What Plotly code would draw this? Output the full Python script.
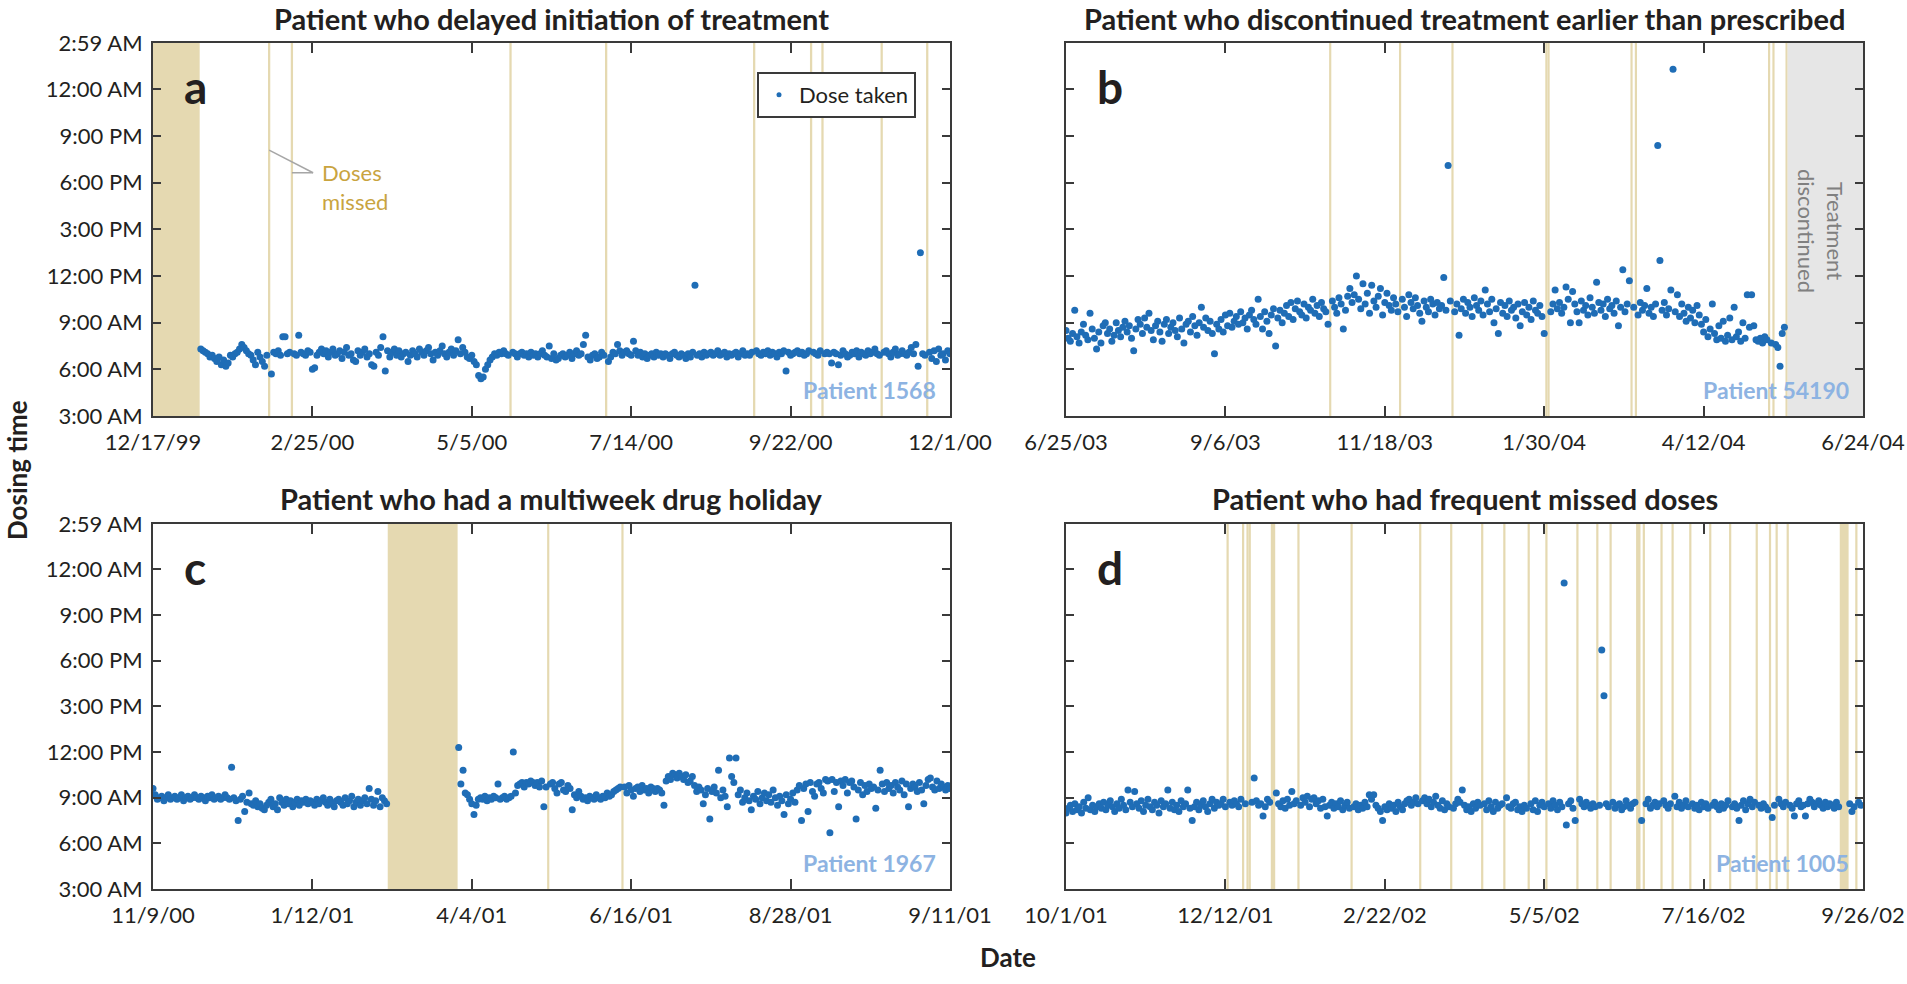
import sys
import plotly.graph_objects as go

# ------------------------------------------------------------------ data
y_tick_hours = [3, 6, 9, 12, 15, 18, 21, 24, 26.9833]
y_tick_labels = ["3:00 AM", "6:00 AM", "9:00 AM", "12:00 PM", "3:00 PM",
                 "6:00 PM", "9:00 PM", "12:00 AM", "2:59 AM"]

# ---- panel a : delayed initiation
a_title = "Patient who delayed initiation of treatment"
a_patient = "Patient 1568"
a_span = 350
a_tick_days = [0, 70, 140, 210, 280, 350]
a_tick_labels = ["12/17/99", "2/25/00", "5/5/00", "7/14/00", "9/22/00", "12/1/00"]
a_first_day, a_last_day = 21, 350
a_missed_runs = [(0, 20)]
a_missed_days = [51, 61, 157, 199, 264, 289, 294, 320, 340]
a_dose_hours = [
    # d21-50
    7.3, 7.2, 7.1, 7.0, 6.8, 6.9, 6.7, 6.5, 6.8, 6.3,
    6.6, 6.2, 6.4, 6.9, 6.8, 7.0, 7.1, 7.3, 7.6, 7.4,
    7.2, 7.0, 6.9, 6.6, 6.3, 7.1, 6.8, 6.5, 6.2, 6.9,
    # d52-60
    5.7, 7.1, 7.0, 7.2, 6.9, 8.1, 8.1, 7.0, 7.1,
    # d62-156
    7.0, 6.9, 8.2, 7.1, 7.0, 6.9, 7.2, 7.1, 6.0, 6.1,
    6.9, 7.1, 7.3, 7.0, 7.2, 6.8, 7.1, 7.3, 6.9, 7.0,
    7.2, 6.7, 7.1, 7.4, 6.9, 7.0, 6.6, 6.5, 7.2, 6.9,
    7.1, 7.3, 6.8, 7.0, 6.3, 6.2, 7.1, 6.9, 7.4, 8.1,
    5.9, 7.2, 6.8, 7.1, 7.3, 6.9, 7.2, 6.8, 7.0, 7.1,
    6.5, 6.9, 7.2, 7.0, 6.8, 7.3, 7.1, 6.9, 7.2, 7.4,
    7.0, 6.6, 7.1, 6.9, 7.2, 7.5, 7.0, 6.8, 7.1, 7.3,
    6.9, 7.2, 7.9, 7.0, 7.4, 7.1, 6.8, 6.7, 6.9, 6.5,
    6.3, 5.6, 5.4, 5.5, 6.0, 6.3, 6.6, 6.8, 7.0, 6.9,
    7.1, 7.0, 7.2, 7.0, 6.9,
    # d158-198
    7.1, 7.0, 6.8, 7.0, 7.1, 6.9, 7.0, 6.8, 7.1, 6.9,
    7.0, 6.8, 7.0, 7.2, 6.9, 6.8, 7.5, 6.7, 7.0, 6.6,
    6.7, 6.9, 7.0, 6.8, 6.9, 7.1, 6.7, 7.0, 7.2, 6.9,
    7.0, 7.6, 8.2, 6.8, 6.6, 6.9, 7.0, 6.7, 6.8, 7.1,
    6.9,
    # d200-263
    6.5, 6.8, 7.1, 7.0, 7.6, 7.2, 6.9, 7.1, 7.2, 7.0,
    6.9, 7.8, 7.2, 6.9, 7.1, 6.8, 7.0, 6.7, 6.9, 7.0,
    6.8, 7.1, 6.9, 7.0, 6.8, 7.0, 6.9, 6.7, 7.0, 7.1,
    6.9, 6.8, 7.0, 6.9, 6.7, 7.0, 6.8, 7.1, 11.4, 6.9,
    7.0, 6.8, 7.1, 6.9, 7.0, 7.1, 6.9, 7.0, 7.2, 6.9,
    7.0, 7.1, 6.8, 7.0, 6.9, 7.0, 7.1, 6.8, 7.0, 7.2,
    6.9, 7.0, 6.9, 7.1,
    # d265-288
    7.2, 7.0, 6.9, 7.1, 7.0, 7.2, 6.9, 7.1, 7.0, 6.8,
    7.1, 7.0, 7.2, 5.9, 7.1, 6.9, 7.0, 7.1, 7.2, 7.0,
    7.1, 6.9, 7.0, 7.2,
    # d290-293
    7.1, 7.0, 6.9, 7.2,
    # d295-319
    7.0, 7.1, 7.0, 6.4, 7.1, 7.0, 6.3, 6.9, 7.2, 7.0,
    6.8, 6.9, 7.1, 7.0, 7.2, 6.8, 7.1, 7.0, 6.9, 7.2,
    7.0, 7.1, 7.3, 7.0, 6.9,
    # d321-339
    7.1, 7.2, 7.0, 6.8, 7.1, 7.3, 6.9, 7.0, 7.2, 7.0,
    6.9, 7.1, 7.4, 7.0, 7.6, 6.2, 13.5, 7.0, 6.9,
    # d341-350
    7.1, 6.7, 7.2, 6.5, 7.3, 6.9, 7.0, 6.6, 7.2, 7.0,
]

# ---- panel b : discontinued early
b_title = "Patient who discontinued treatment earlier than prescribed"
b_patient = "Patient 54190"
b_span = 365
b_tick_days = [0, 73, 146, 219, 292, 365]
b_tick_labels = ["6/25/03", "9/6/03", "11/18/03", "1/30/04", "4/12/04", "6/24/04"]
b_first_day, b_last_day = 0, 329
b_missed_runs = []
b_missed_days = [121, 153, 177, 220, 221, 259, 261, 322, 324, 330]
b_discontinued_from = 330.5
b_dose_hours = [
    8.5, 8.0, 7.8, 8.3, 9.8, 8.1, 7.7, 8.4, 8.9, 8.2,
    7.9, 9.6, 8.6, 8.0, 7.3, 8.4, 7.7, 8.8, 9.0, 8.3,
    8.6, 7.8, 8.2, 9.0, 8.5, 8.1, 8.7, 9.1, 8.4, 8.8,
    8.0, 7.2, 8.6, 9.2, 8.9, 8.3, 9.3, 8.7, 9.6, 8.5,
    7.9, 8.8, 9.1, 8.4, 7.8, 8.9, 9.2, 8.3, 8.7, 9.0,
    8.5, 8.1, 9.3, 8.6, 7.7, 8.9, 9.1, 8.4, 9.4, 8.8,
    8.2, 9.0, 10.0, 8.7, 9.3, 8.5, 9.1, 8.3, 7.0, 8.9,
    8.6, 9.2, 8.4, 9.5, 8.8, 9.6, 8.7, 9.1, 9.4, 8.9,
    9.7, 9.0, 9.3, 8.6, 9.5, 9.8, 9.2, 8.9, 10.5, 9.4,
    8.6, 9.7, 9.1, 8.3, 9.5, 9.9, 7.5, 9.3, 9.8, 9.0,
    9.6, 10.1, 9.4, 10.3, 9.2, 9.9, 10.4, 9.7, 9.5, 10.2,
    9.3, 10.0, 9.8, 10.5, 9.6, 10.1, 9.4, 10.3, 9.9, 9.7,
    8.9, 10.4, 10.0, 9.6, 10.6, 10.2, 8.6, 9.8, 10.7, 11.2,
    10.3, 10.8, 12.0, 10.5, 9.9, 11.5, 10.2, 10.9, 9.6, 11.4,
    10.4, 10.0, 10.7, 11.2, 9.5, 10.3, 10.9, 10.1, 9.8, 10.6,
    10.2, 9.7, 10.5, 10.0, 9.4, 10.8, 10.3, 9.9, 10.6, 10.1,
    9.6, 9.1, 10.4, 10.0, 9.7, 10.5, 10.2, 9.5, 10.3, 9.9,
    10.1, 11.9, 9.8, 19.1, 10.4, 9.7, 10.2, 8.2, 9.9, 10.5,
    9.6, 10.3, 10.0, 9.4, 10.6, 10.1, 9.8, 10.4, 9.5, 11.1,
    10.2, 9.7, 10.5, 9.0, 9.9, 8.3, 10.3, 9.6, 10.1, 9.4,
    10.4, 9.8, 10.0, 9.3, 10.2, 8.8, 9.7, 10.3, 9.5, 10.0,
    9.2, 10.4, 9.8, 9.6, 10.1, 9.4, 8.3, 9.7, 10.2, 11.1,
    9.9, 10.3, 9.6, 10.0, 11.3, 10.5, 9.0, 11.0, 10.2, 9.7,
    9.0, 10.4, 9.8, 10.1, 9.5, 10.6, 10.0, 9.6, 11.6, 10.3,
    9.8, 10.2, 9.4, 10.5, 9.9, 10.1, 9.6, 10.4, 8.8, 10.0,
    12.4, 9.7, 10.2, 11.7, 10.0, 9.5, 10.3, 9.8, 10.1, 11.2,
    9.6, 10.0, 9.4, 10.2, 20.4, 13.0, 9.8, 10.3, 9.5, 9.9,
    11.1, 1.3, 9.7, 10.8, 9.4, 10.2, 9.6, 9.1, 10.0, 9.3,
    9.8, 9.0, 10.1, 9.5, 8.9, 8.4, 9.2, 8.1, 8.6, 10.2,
    8.3, 7.9, 8.8, 8.0, 9.1, 7.8, 8.2, 9.3, 7.9, 10.0,
    8.1, 8.4, 7.8, 9.0, 8.0, 10.8, 8.7, 10.8, 8.8, 7.9,
    7.8, 8.0, 7.7, 8.1, 7.9, 7.7, 7.6, 7.4, 6.2, 8.3, 8.7,
]

# ---- panel c : drug holiday
c_title = "Patient who had a multiweek drug holiday"
c_patient = "Patient 1967"
c_span = 365
c_tick_days = [0, 73, 146, 219, 292, 365]
c_tick_labels = ["11/9/00", "1/12/01", "4/4/01", "6/16/01", "8/28/01", "9/11/01"]
c_first_day, c_last_day = 0, 365
c_missed_runs = [(108, 139)]
c_missed_days = [181, 215]
c_dose_hours = [
    # d0-107
    9.6, 9.2, 8.9, 9.0, 9.1, 8.8, 9.0, 9.2, 8.9, 9.0,
    9.1, 8.9, 9.0, 9.2, 8.8, 9.0, 9.1, 8.9, 9.0, 9.2,
    9.0, 8.9, 9.1, 9.0, 8.8, 9.1, 9.0, 9.2, 8.9, 9.0,
    9.1, 8.9, 9.0, 9.2, 9.0, 8.9, 11.0, 9.0, 8.8, 7.5,
    8.9, 9.1, 8.1, 8.7, 9.3, 8.6, 8.5, 8.8, 8.4, 8.6,
    8.3, 8.2, 8.5, 8.7, 8.9, 8.4, 8.6, 8.2, 9.0, 8.7,
    8.5, 8.9, 8.6, 8.8, 8.4, 8.7, 8.9, 8.5, 8.8, 8.7,
    8.9, 8.6, 8.8, 8.7, 8.5, 8.9, 8.6, 8.8, 9.0, 8.7,
    8.5, 8.9, 8.6, 8.4, 8.8, 8.9, 8.7, 8.5, 9.0, 8.6,
    8.8, 9.1, 8.4, 8.7, 8.9, 8.5, 8.8, 9.0, 8.6, 9.6,
    8.9, 8.5, 8.8, 9.4, 8.4, 9.0, 8.8, 8.6,
    # d140-180
    12.3, 9.9, 10.8, 9.3, 9.2, 8.9, 8.6, 7.9, 8.5, 8.9,
    9.0, 8.9, 9.1, 8.8, 9.0, 8.9, 9.1, 9.0, 9.9, 8.9,
    9.0, 9.1, 8.9, 9.0, 9.1, 12.0, 9.3, 9.8, 9.9, 10.0,
    9.7, 10.0, 9.9, 10.1, 10.0, 9.8, 10.0, 9.7, 10.1, 8.4,
    9.7,
    # d182-214
    9.9, 10.0, 9.6, 9.3, 9.9, 10.0, 9.5, 9.4, 9.8, 9.6,
    8.2, 9.2, 9.0, 9.4, 9.1, 8.9, 9.0, 8.8, 9.1, 9.0,
    8.9, 9.2, 9.0, 8.9, 9.1, 9.0, 9.3, 9.1, 9.2, 9.4,
    9.5, 9.6, 9.7,
    # d216-365
    9.7, 9.3, 9.8, 9.5, 9.1, 9.6, 9.7, 9.4, 9.8, 9.5,
    9.6, 9.3, 9.7, 9.6, 9.4, 9.6, 9.5, 9.3, 8.5, 10.1,
    10.4, 10.2, 10.6, 10.5, 10.3, 10.6, 10.4, 10.2, 10.5, 10.0,
    10.1, 10.4, 9.8, 9.4, 9.7, 9.5, 8.6, 9.2, 9.6, 7.6,
    9.4, 9.7, 9.3, 10.8, 9.0, 9.5, 9.1, 8.4, 11.6, 10.4,
    10.0, 11.6, 9.2, 9.5, 8.7, 9.0, 9.3, 8.8, 8.2, 9.1,
    8.9, 9.4, 8.6, 9.0, 9.3, 8.8, 9.2, 8.7, 9.5, 9.0,
    8.5, 9.1, 8.8, 7.9, 9.2, 8.6, 8.9, 9.3, 8.7, 9.5,
    9.8, 7.5, 9.6, 9.9, 8.1, 10.0, 9.4, 9.1, 9.9, 10.0,
    9.6, 9.3, 10.2, 10.1, 6.7, 10.2, 9.4, 10.0, 8.4, 10.1,
    9.8, 10.2, 9.3, 10.0, 10.1, 9.7, 7.6, 9.5, 10.0, 9.2,
    9.8, 9.4, 9.9, 9.6, 9.7, 8.3, 9.5, 10.8, 9.9, 9.4,
    10.0, 9.6, 9.8, 9.3, 10.0, 9.7, 9.5, 10.1, 9.2, 9.9,
    8.4, 9.6, 9.9, 9.7, 9.4, 10.0, 9.5, 8.6, 9.8, 10.2,
    10.3, 9.7, 9.5, 10.1, 9.6, 9.9, 9.7, 9.5, 9.8, 9.6,
]

# ---- panel d : frequent missed doses
d_title = "Patient who had frequent missed doses"
d_patient = "Patient 1005"
d_span = 360
d_tick_days = [0, 72, 144, 216, 288, 360]
d_tick_labels = ["10/1/01", "12/12/01", "2/22/02", "5/5/02", "7/16/02", "9/26/02"]
d_first_day, d_last_day = 0, 359
d_missed_runs = [(258, 259), (350, 353)]
d_missed_days = [73, 80, 82, 83, 93, 94, 105, 129, 160, 174, 188, 198, 209, 217,
                 231, 240, 246, 261, 269, 274, 282, 291, 300, 312, 318, 321, 326, 357]
d_dose_hours = [
    # d0-72
    8.0, 8.3, 8.5, 8.1, 8.6, 8.2, 8.4, 8.0, 8.7, 8.3,
    9.0, 8.2, 8.5, 8.1, 8.4, 8.6, 8.3, 8.7, 8.2, 8.5,
    8.8, 8.4, 8.1, 8.6, 8.3, 8.9, 8.5, 8.2, 9.5, 8.7,
    8.4, 9.4, 8.6, 8.3, 8.8, 8.1, 8.5, 8.9, 8.4, 8.2,
    8.7, 8.5, 8.0, 8.8, 8.4, 8.6, 9.5, 8.3, 8.7, 8.2,
    8.5, 8.1, 8.8, 8.4, 8.6, 9.5, 8.3, 7.5, 8.4, 8.7,
    8.2, 8.5, 8.8, 8.4, 8.1, 8.6, 8.9, 8.3, 8.7, 8.5,
    8.6, 8.9, 8.4,
    # d74-79
    8.7, 8.5, 8.8, 8.6, 8.4, 8.9,
    # d81
    8.6,
    # d84-92
    8.7, 10.3, 8.8, 8.5, 8.6, 7.8, 8.4, 8.9, 8.7,
    # d95-104
    9.3, 8.6, 8.4, 8.8, 8.3, 8.9, 8.5, 9.4, 8.6, 8.8,
    # d106-128
    8.5, 9.0, 8.7, 9.1, 8.4, 8.9, 9.0, 8.6, 8.8, 8.3,
    8.9, 8.4, 7.8, 8.5, 8.7, 8.3, 8.6, 8.4, 8.8, 8.2,
    8.5, 8.7, 8.3,
    # d130-159
    8.4, 8.6, 8.2, 8.5, 8.3, 8.7, 8.4, 9.2, 8.9, 9.2,
    8.5, 8.3, 8.1, 7.5, 8.4, 8.2, 8.6, 8.3, 8.5, 8.1,
    8.7, 8.4, 8.2, 8.6, 8.8, 8.9, 8.5, 8.7, 9.0, 8.6,
    # d161-173
    8.8, 9.0, 8.6, 8.9, 8.4, 8.7, 9.1, 8.5, 8.3, 8.8, 8.2, 8.6, 8.4,
    # d175-187
    8.3, 8.6, 8.9, 8.7, 9.5, 8.5, 8.2, 8.4, 8.1, 8.6, 8.3, 8.7, 8.5,
    # d189-197
    8.6, 8.2, 8.8, 8.4, 8.1, 8.7, 8.3, 8.5, 8.6,
    # d199-208
    9.0, 8.4, 8.3, 8.6, 8.7, 8.2, 8.4, 8.1, 8.5, 8.3,
    # d210-216
    8.6, 8.2, 8.8, 8.1, 8.5, 8.7, 8.4,
    # d218-230
    8.6, 8.3, 8.8, 8.5, 8.2, 8.7, 8.4, 23.1, 7.2, 8.6, 8.8, 8.3, 7.5,
    # d232-239
    8.9, 8.6, 8.4, 8.7, 8.5, 8.3, 8.6, 8.4,
    # d241-245
    8.5, 18.7, 15.7, 8.6, 8.4,
    # d247-257
    8.7, 8.3, 8.5, 8.6, 8.2, 8.4, 8.8, 8.5, 8.3, 8.6, 8.7,
    # d260
    7.5,
    # d262-268
    8.6, 8.9, 8.3, 8.5, 8.7, 8.4, 8.6,
    # d270-273
    8.8, 8.5, 8.3, 8.6,
    # d275-281
    9.1, 8.4, 8.7, 8.3, 8.5, 8.8, 8.4,
    # d283-290
    8.6, 8.3, 8.5, 8.2, 8.7, 8.4, 8.6, 8.3,
    # d292-299
    8.5, 8.7, 8.4, 8.2, 8.6, 8.3, 8.5, 8.8,
    # d301-311
    8.4, 8.6, 8.3, 7.5, 8.5, 8.8, 8.2, 8.6, 8.9, 8.4, 8.7,
    # d313-317
    8.5, 8.3, 8.6, 8.4, 8.2,
    # d319-320
    7.7, 8.5,
    # d322-325
    8.9, 8.6, 8.4, 8.7,
    # d327-349
    8.5, 8.3, 7.8, 8.6, 8.8, 8.4, 8.5, 7.8, 8.6, 8.9,
    8.7, 8.4, 8.6, 8.8, 8.5, 8.3, 8.7, 8.4, 8.6, 8.5,
    8.3, 8.7, 8.4,
    # d354-356
    8.6, 8.1, 8.4,
    # d358-359
    8.7, 8.5,
]

# ------------------------------------------------------------------ style
W, H = 1907, 984
FONT = "Lato"
DARK = "#231F20"
AXIS = "#3A3A3A"
BLUE = "#1F6DB6"
TAN = "#E5D9B1"
GREY_FILL = "#E6E6E6"
LABEL_BLUE = "#8DB3E2"
GOLD = "#C9A43F"


def px_x(p):
    return p / W


def px_y(p):
    return 1 - p / H


# plot areas in pixels (left, right, top, bottom)
boxes = {
    "a": (153, 950, 43, 416),
    "b": (1066, 1863, 43, 416),
    "c": (153, 950, 524, 889),
    "d": (1066, 1863, 524, 889),
}

panels = [
    ("a", "x", "y", a_title, a_patient, a_span, a_tick_days, a_tick_labels,
     a_first_day, a_last_day, a_missed_runs, a_missed_days, a_dose_hours, True),
    ("b", "x2", "y2", b_title, b_patient, b_span, b_tick_days, b_tick_labels,
     b_first_day, b_last_day, b_missed_runs, b_missed_days, b_dose_hours, False),
    ("c", "x3", "y3", c_title, c_patient, c_span, c_tick_days, c_tick_labels,
     c_first_day, c_last_day, c_missed_runs, c_missed_days, c_dose_hours, True),
    ("d", "x4", "y4", d_title, d_patient, d_span, d_tick_days, d_tick_labels,
     d_first_day, d_last_day, d_missed_runs, d_missed_days, d_dose_hours, False),
]

fig = go.Figure()
shapes = []
annotations = []
layout_axes = {}

for (key, xa, ya, title, patient, span, tdays, tlabels, first, last,
     runs, missed, hours, show_y) in panels:
    left, right, top, bottom = boxes[key]
    skip = set(missed)
    for r0, r1 in runs:
        skip.update(range(r0, r1 + 1))
    days = [d for d in range(first, last + 1) if d not in skip]
    if len(days) != len(hours):
        print(f"panel {key}: {len(days)} days vs {len(hours)} values", file=sys.stderr)
    xs, ys = [], []
    for d, h in zip(days, hours):
        xs.append(d)
        ys.append(h + 24 if h < 3 else h)

    fig.add_trace(go.Scatter(
        x=xs, y=ys, mode="markers", xaxis=xa, yaxis=ya, showlegend=False,
        marker=dict(size=7, color=BLUE, line=dict(width=0)),
        hoverinfo="skip"))

    # missed-dose bands
    for r0, r1 in runs:
        shapes.append(dict(type="rect", xref=xa, yref=f"{ya} domain",
                           x0=max(r0 - 0.5, 0), x1=r1 + 0.5, y0=0, y1=1,
                           fillcolor=TAN, line=dict(width=0), layer="below"))
    for d in missed:
        shapes.append(dict(type="rect", xref=xa, yref=f"{ya} domain",
                           x0=d - 0.5, x1=min(d + 0.5, span), y0=0, y1=1,
                           fillcolor=TAN, line=dict(width=0), layer="below"))

    axnum = xa[1:]
    layout_axes[f"xaxis{axnum}"] = dict(
        domain=[px_x(left), px_x(right)], range=[0, span], anchor=ya,
        tickmode="array", tickvals=tdays, ticktext=tlabels,
        ticks="inside", ticklen=10, tickwidth=2, tickcolor=AXIS,
        showline=True, linewidth=2, linecolor=AXIS, mirror="ticks",
        showgrid=False, zeroline=False, fixedrange=True, automargin=False,
        ticklabeloverflow="allow",
        tickfont=dict(family=FONT, size=22, color=DARK), ticklabelstandoff=6)
    layout_axes[f"yaxis{axnum}"] = dict(
        domain=[px_y(bottom), px_y(top)], range=[3, 26.9833], anchor=xa,
        tickmode="array", tickvals=y_tick_hours, ticktext=y_tick_labels,
        ticks="inside", ticklen=8, tickwidth=2, tickcolor=AXIS,
        showline=True, linewidth=2, linecolor=AXIS, mirror="ticks",
        showgrid=False, zeroline=False, fixedrange=True, showticklabels=show_y,
        automargin=False,
        tickfont=dict(family=FONT, size=22, color=DARK), ticklabelstandoff=4)

    # title
    annotations.append(dict(
        text=f"<b>{title}</b>", xref="paper", yref="paper",
        x=px_x((left + right) / 2), y=px_y(top - 25), xanchor="center", yanchor="middle",
        showarrow=False, font=dict(family=FONT, size=29, color=DARK)))
    # panel letter
    annotations.append(dict(
        text=f"<b>{key}</b>", xref="paper", yref="paper",
        x=px_x(left + 29), y=px_y(top + 43), xanchor="left", yanchor="middle",
        showarrow=False, font=dict(family=FONT, size=46, color=DARK)))
    # patient id
    annotations.append(dict(
        text=f"<b>{patient}</b>", xref="paper", yref="paper",
        x=px_x(right - 12), y=px_y(bottom - 26), xanchor="right", yanchor="middle",
        showarrow=False, font=dict(family=FONT, size=23, color=LABEL_BLUE)))

# discontinued region (panel b)
shapes.append(dict(type="rect", xref="x2", yref="y2 domain", x0=b_discontinued_from,
                   x1=b_span, y0=0, y1=1, fillcolor=GREY_FILL, line=dict(width=0),
                   layer="below"))
annotations.append(dict(
    text="Treatment<br>discontinued", xref="x2", yref="y2",
    x=(b_discontinued_from + b_span) / 2 - 2, y=14.9, textangle=90,
    xanchor="center", yanchor="middle", showarrow=False,
    font=dict(family=FONT, size=22, color="#808080")))

# "Doses missed" callout (panel a)
shapes.append(dict(type="line", xref="x", yref="y", x0=a_missed_days[0], y0=20.1,
                   x1=70.3, y1=18.64, line=dict(color="#A6A6A6", width=1.5)))
shapes.append(dict(type="line", xref="x", yref="y", x0=a_missed_days[1], y0=18.64,
                   x1=70.3, y1=18.64, line=dict(color="#A6A6A6", width=1.5)))
annotations.append(dict(
    text="Doses<br>missed", xref="x", yref="y", x=73.3, y=17.7, align="left",
    xanchor="left", yanchor="middle", showarrow=False,
    font=dict(family=FONT, size=22, color=GOLD)))

# axis titles
annotations.append(dict(
    text="<b>Dosing time</b>", xref="paper", yref="paper", x=px_x(17), y=px_y(470),
    textangle=-90, xanchor="center", yanchor="middle", showarrow=False,
    font=dict(family=FONT, size=26, color=DARK)))
annotations.append(dict(
    text="<b>Date</b>", xref="paper", yref="paper", x=px_x(1008), y=px_y(957),
    xanchor="center", yanchor="middle", showarrow=False,
    font=dict(family=FONT, size=26, color=DARK)))

# legend-only trace (small dot symbol)
fig.add_trace(go.Scatter(
    x=[None], y=[None], mode="markers", xaxis="x", yaxis="y",
    marker=dict(size=5, color=BLUE), name="Dose taken", showlegend=True))

fig.update_layout(
    width=W, height=H, autosize=False,
    margin=dict(l=0, r=0, t=0, b=0, autoexpand=False),
    paper_bgcolor="white", plot_bgcolor="white",
    font=dict(family=FONT, color=DARK),
    shapes=shapes, annotations=annotations,
    legend=dict(x=px_x(757), y=px_y(72), xanchor="left", yanchor="top",
                bgcolor="white", bordercolor=AXIS, borderwidth=2,
                font=dict(family=FONT, size=22, color=DARK),
                itemwidth=30, itemclick=False, itemdoubleclick=False),
    **layout_axes,
)

# the page's default 8px body margin would push the 1907x984 figure off-screen
fig.write_html("out.html", config={"displayModeBar": False},
               post_script="document.body.style.margin = '0px';")
